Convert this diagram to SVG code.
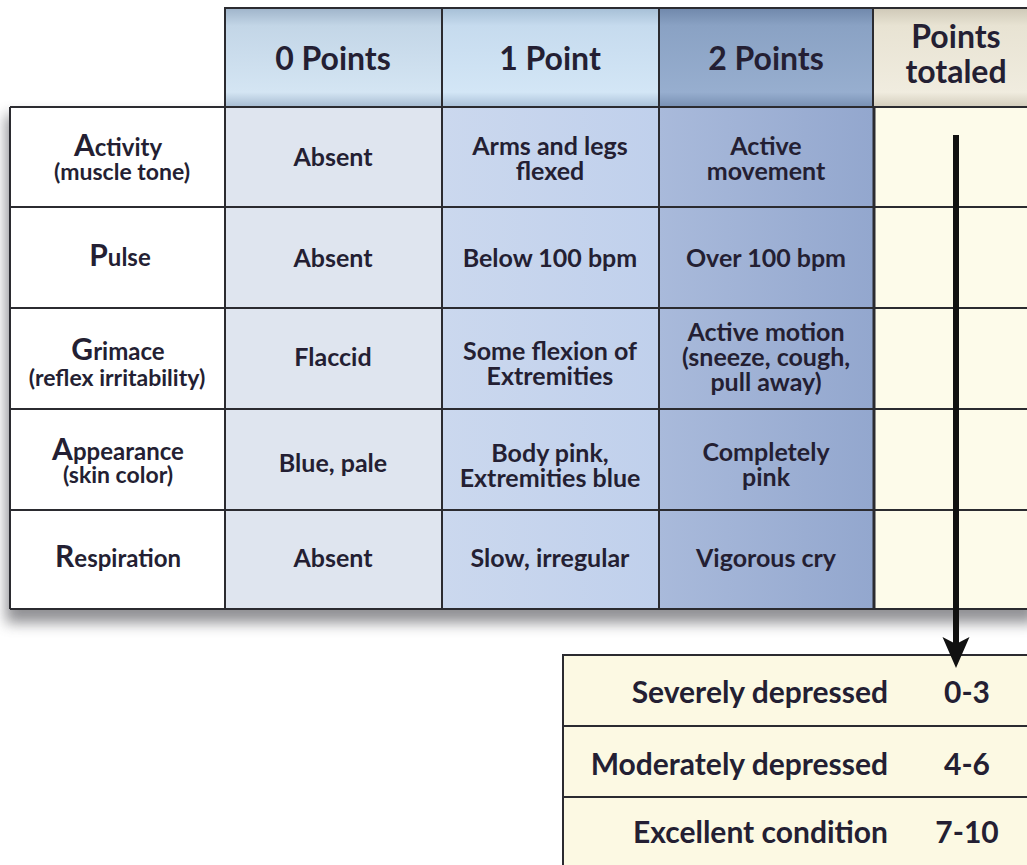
<svg xmlns="http://www.w3.org/2000/svg" width="1027" height="865" viewBox="0 0 1027 865">
<defs>
<style>
text{font-family:Lato,"Open Sans","Liberation Sans",sans-serif;font-weight:700;fill:#241f33;text-anchor:middle}
.hd{font-size:32px}
.cell{font-size:25px}
.lab{font-size:24px}
.sub{font-size:23px}
.big{font-size:30px}
.res{font-size:30px}
.grid{stroke:#2b2b30;stroke-width:2;fill:none}
</style>
<linearGradient id="h0" x1="0" y1="0" x2="0" y2="1">
<stop offset="0" stop-color="#9fb4ca"/><stop offset="0.18" stop-color="#c3d6e7"/><stop offset="0.85" stop-color="#d4e5f3"/><stop offset="1" stop-color="#a6bbd1"/>
</linearGradient>
<linearGradient id="h1" x1="0" y1="0" x2="0" y2="1">
<stop offset="0" stop-color="#a6bfd6"/><stop offset="0.18" stop-color="#c6dbee"/><stop offset="0.85" stop-color="#d3e6f6"/><stop offset="1" stop-color="#a9c0d8"/>
</linearGradient>
<linearGradient id="h2" x1="0" y1="0" x2="0" y2="1">
<stop offset="0" stop-color="#7088ab"/><stop offset="0.18" stop-color="#8aa2c4"/><stop offset="0.85" stop-color="#97aecf"/><stop offset="1" stop-color="#7890b3"/>
</linearGradient>
<linearGradient id="h3" x1="0" y1="0" x2="0" y2="1">
<stop offset="0" stop-color="#cfc9b8"/><stop offset="0.18" stop-color="#e8e3d3"/><stop offset="0.85" stop-color="#f0ecdf"/><stop offset="1" stop-color="#d3cdbc"/>
</linearGradient>
<linearGradient id="b1" x1="0" y1="0" x2="1" y2="0">
<stop offset="0" stop-color="#cbd8ee"/><stop offset="1" stop-color="#c0d0ec"/>
</linearGradient>
<linearGradient id="b2" x1="0" y1="0" x2="1" y2="0">
<stop offset="0" stop-color="#a9badb"/><stop offset="1" stop-color="#93a7ce"/>
</linearGradient>
<filter id="sh" x="-5%" y="-5%" width="110%" height="120%">
<feGaussianBlur stdDeviation="7"/>
</filter>
<marker id="ah" viewBox="0 -14 32 28" markerWidth="32" markerHeight="28" markerUnits="userSpaceOnUse" refX="13" refY="0" orient="auto">
<path d="M0,-13.5 L31,0 L0,13.5 L7,0 z" fill="#111"/>
</marker>
</defs>
<rect x="0" y="0" width="1027" height="865" fill="#ffffff"/>
<rect x="6" y="115" width="1030" height="508" fill="#6d6d72" opacity="0.75" filter="url(#sh)"/>
<g id="header">
<rect x="225" y="8" width="217" height="99" fill="url(#h0)"/>
<rect x="442" y="8" width="217" height="99" fill="url(#h1)"/>
<rect x="659" y="8" width="214" height="99" fill="url(#h2)"/>
<rect x="873" y="8" width="160" height="99" fill="url(#h3)"/>
<path class="grid" d="M225,107 V8 H1030 M442,8 V107 M659,8 V107 M873,8 V107"/>
<text class="hd" x="333" y="70">0 Points</text>
<text class="hd" x="550" y="70">1 Point</text>
<text class="hd" x="766" y="70">2 Points</text>
<text class="hd" x="956" y="48"><tspan x="956">Points</tspan><tspan x="956" dy="35">totaled</tspan></text>
</g>
<g id="table">
<rect x="10" y="107" width="215" height="502" fill="#ffffff"/>
<rect x="225" y="107" width="217" height="502" fill="#dfe5ef"/>
<rect x="442" y="107" width="217" height="502" fill="url(#b1)"/>
<rect x="659" y="107" width="214" height="502" fill="url(#b2)"/>
<rect x="873" y="107" width="160" height="502" fill="#fdfbea"/>
<path class="grid" d="M10,107 H1030 M10,207 H1030 M10,308 H1030 M10,409 H1030 M10,510 H1030 M10,609 H1030 M10,107 V609 M225,107 V609 M442,107 V609 M659,107 V609"/>
<path d="M874,107 V609" stroke="#2b2b30" stroke-width="3"/>
</g>
<g id="row-activity">
<text class="lab" x="118" y="156"><tspan class="big">A</tspan>ctivity<tspan class="sub" x="122" y="180">(muscle tone)</tspan></text>
<text class="cell" x="333" y="166">Absent</text>
<text class="cell" x="550" y="155"><tspan x="550">Arms and legs</tspan><tspan x="550" dy="25">flexed</tspan></text>
<text class="cell" x="766" y="155"><tspan x="766">Active</tspan><tspan x="766" dy="25">movement</tspan></text>
</g>
<g id="row-pulse">
<text class="lab" x="120" y="266"><tspan class="big">P</tspan>ulse</text>
<text class="cell" x="333" y="267">Absent</text>
<text class="cell" x="550" y="267">Below 100 bpm</text>
<text class="cell" x="766" y="267">Over 100 bpm</text>
</g>
<g id="row-grimace">
<text class="lab" x="118" y="360"><tspan class="big">G</tspan>rimace<tspan class="sub" x="117" y="386">(reflex irritability)</tspan></text>
<text class="cell" x="333" y="366">Flaccid</text>
<text class="cell" x="550" y="360"><tspan x="550">Some flexion of</tspan><tspan x="550" dy="25">Extremities</tspan></text>
<text class="cell" x="766" y="341"><tspan x="766">Active motion</tspan><tspan x="766" dy="25">(sneeze, cough,</tspan><tspan x="766" dy="25">pull away)</tspan></text>
</g>
<g id="row-appearance">
<text class="lab" x="118" y="460"><tspan class="big">A</tspan>ppearance<tspan class="sub" x="118" y="483">(skin color)</tspan></text>
<text class="cell" x="333" y="472">Blue, pale</text>
<text class="cell" x="550" y="462"><tspan x="550">Body pink,</tspan><tspan x="550" dy="25">Extremities blue</tspan></text>
<text class="cell" x="766" y="461"><tspan x="766">Completely</tspan><tspan x="766" dy="25">pink</tspan></text>
</g>
<g id="row-respiration">
<text class="lab" x="118" y="567"><tspan class="big">R</tspan>espiration</text>
<text class="cell" x="333" y="567">Absent</text>
<text class="cell" x="550" y="567">Slow, irregular</text>
<text class="cell" x="766" y="567">Vigorous cry</text>
</g>
<g id="result-box">
<rect x="563" y="655" width="470" height="215" fill="#fcf9e3" stroke="#2b2b30" stroke-width="2"/>
<path class="grid" d="M563,726 H1030 M563,797 H1030"/>
<text class="res" x="888" y="703" style="text-anchor:end">Severely depressed</text>
<text class="res" x="967" y="703">0-3</text>
<text class="res" x="888" y="775" style="text-anchor:end">Moderately depressed</text>
<text class="res" x="967" y="775">4-6</text>
<text class="res" x="888" y="843" style="text-anchor:end">Excellent condition</text>
<text class="res" x="967" y="843">7-10</text>
</g>
<g id="connectors">
<line x1="956" y1="135" x2="956" y2="650" stroke="#111" stroke-width="6" marker-end="url(#ah)"/>
</g>
</svg>
